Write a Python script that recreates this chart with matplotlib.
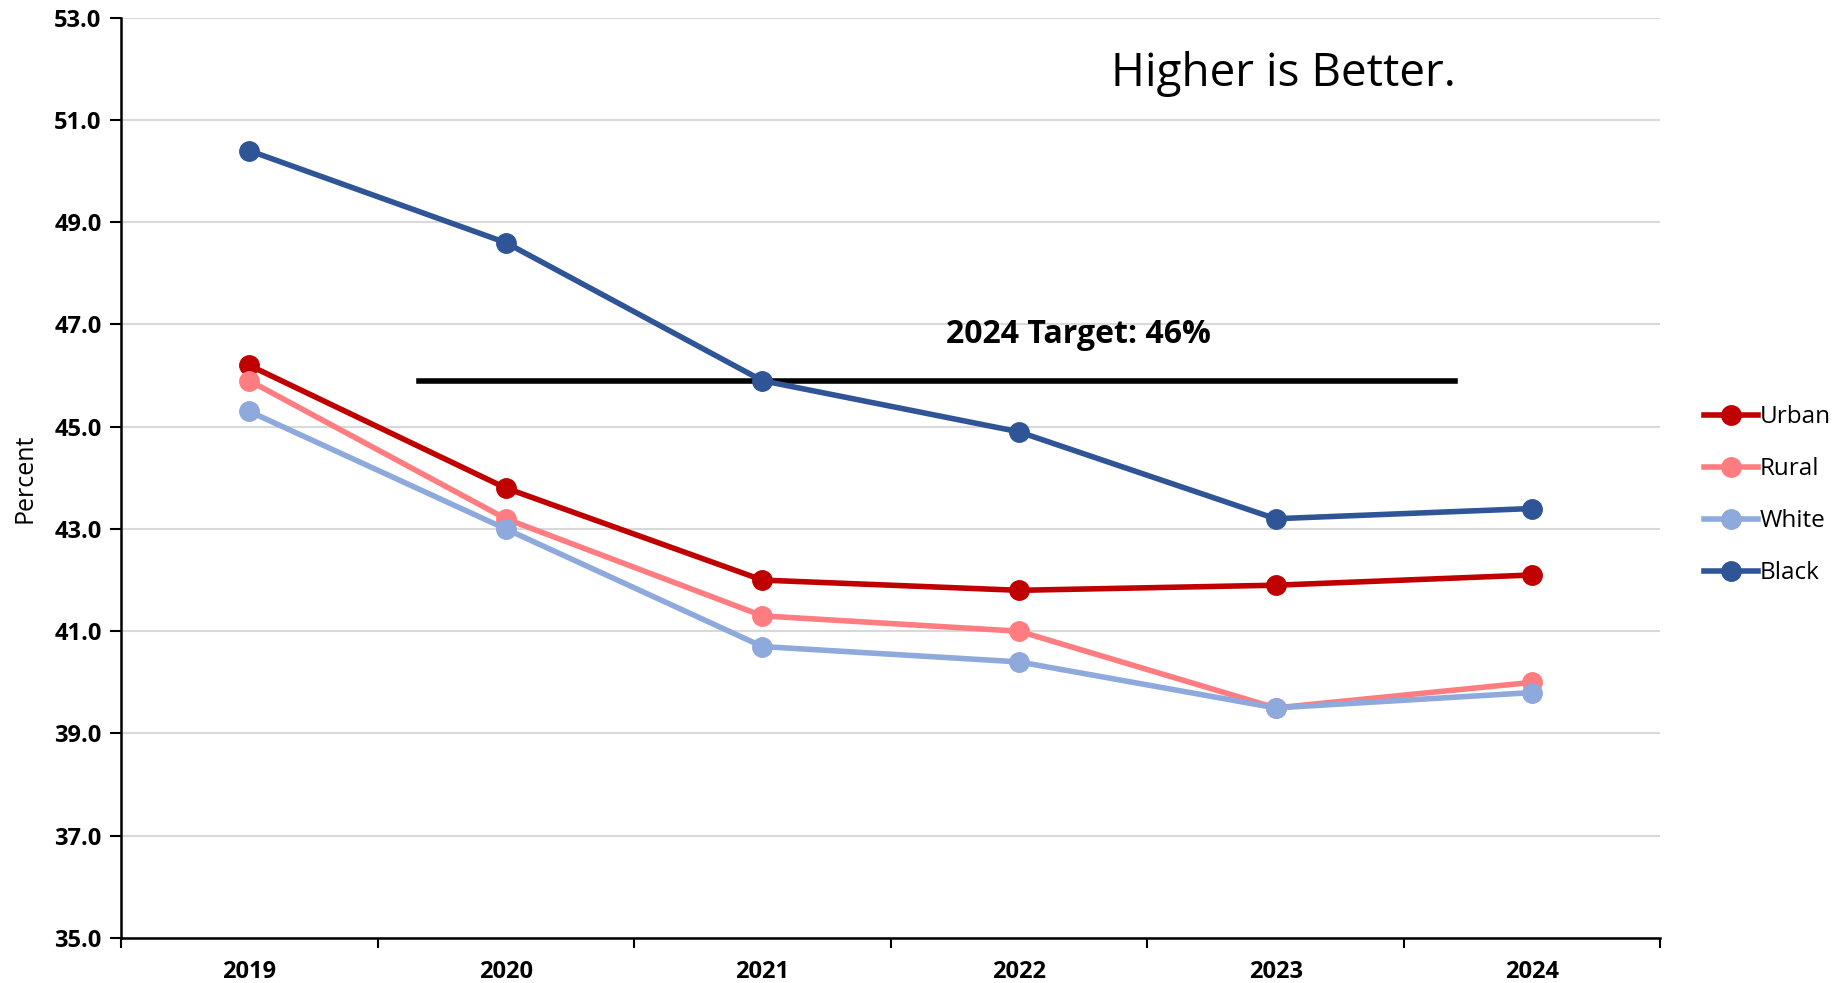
import matplotlib.pyplot as plt
import numpy as np

plt.rcParams["font.family"] = ["Open Sans", "DejaVu Sans"]

years = ["2019", "2020", "2021", "2022", "2023", "2024"]
urban = [46.2, 43.8, 42.0, 41.8, 41.9, 42.1]
rural = [45.9, 43.2, 41.3, 41.0, 39.5, 40.0]
white = [45.3, 43.0, 40.7, 40.4, 39.5, 39.8]
black = [50.4, 48.6, 45.9, 44.9, 43.2, 43.4]
target = 45.9
y_ticks = [35.0, 37.0, 39.0, 41.0, 43.0, 45.0, 47.0, 49.0, 51.0, 53.0]

series = [
    ("Urban", urban, "#C00000"),
    ("Rural", rural, "#FF7C80"),
    ("White", white, "#8EA9DB"),
    ("Black", black, "#2F5597"),
]

fig = plt.figure(figsize=(18.47, 9.83), dpi=100)
ax = fig.add_axes([0.0655, 0.0458, 0.8335, 0.9362])

x = np.arange(len(years))
for name, vals, color in series:
    ax.plot(x, vals, color=color, linewidth=4, marker="o", markersize=14,
            label=name, zorder=3)

# target line
ax.plot([0.66, 4.7], [target, target], color="black", linewidth=4, zorder=2)
ax.text(3.23, 46.8, "2024 Target: 46%", fontsize=23, fontweight="bold",
        ha="center", va="center")
ax.text(4.03, 51.9, "Higher is Better.", fontsize=33, ha="center", va="center")

ax.set_xlim(-0.5, 5.5)
ax.set_ylim(35, 53)
ax.set_yticks(y_ticks)
ax.set_yticklabels([f"{v:.1f}" for v in y_ticks], fontsize=17, fontweight="bold")
ax.set_xticks(x)
ax.set_xticklabels(years, fontsize=17, fontweight="bold")
ax.set_xticks(np.arange(-0.5, 6.0, 1.0), minor=True)
ax.tick_params(axis="x", which="major", length=0, pad=16)
ax.tick_params(axis="x", which="minor", length=7, width=1.5, direction="out")
ax.tick_params(axis="y", length=8, width=1.5, direction="out", pad=6)
ax.grid(axis="y", color="#D9D9D9", linewidth=1.5, zorder=0)
ax.set_axisbelow(True)

for s in ["top", "right"]:
    ax.spines[s].set_visible(False)
for s in ["left", "bottom"]:
    ax.spines[s].set_linewidth(1.8)

ax.set_ylabel("Percent", fontsize=18, labelpad=12)

ax.legend(loc="center left", bbox_to_anchor=(1.022, 0.481), frameon=False,
          fontsize=17.5, handlelength=2.2, handletextpad=0.1, labelspacing=1.15,
          borderaxespad=0.0)

fig.savefig("out.png", dpi=100)
